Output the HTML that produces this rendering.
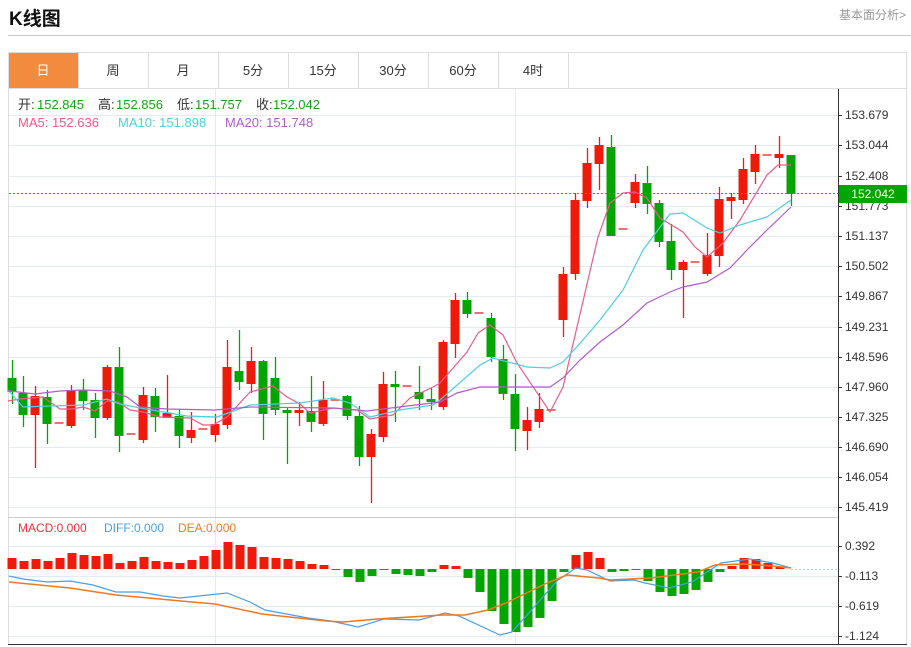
<!DOCTYPE html>
<html><head><meta charset="utf-8"><style>
body{margin:0;background:#fff;width:911px;height:647px;overflow:hidden;font-family:"Liberation Sans","Noto Sans CJK SC",sans-serif;}
#t{position:absolute;left:9px;top:4px;font-size:19px;font-weight:bold;color:#111;}
#r{position:absolute;right:5px;top:6px;font-size:12px;color:#999;}
</style></head><body>
<div id="t">K线图</div><div id="r">基本面分析&gt;</div>
<svg id="s" width="911" height="647" style="position:absolute;left:0;top:0" xmlns="http://www.w3.org/2000/svg"></svg>
<script>
var s=document.getElementById('s'),h='';
function L(x1,y1,x2,y2,c,w,d){h+='<line x1="'+x1+'" y1="'+y1+'" x2="'+x2+'" y2="'+y2+'" stroke="'+c+'" stroke-width="'+(w||1)+'"'+(d?' stroke-dasharray="'+d+'"':'')+'/>';}
function R(x,y,w,hh,c){h+='<rect x="'+x+'" y="'+y+'" width="'+w+'" height="'+hh+'" fill="'+c+'"/>';}
function T(x,y,t,c,sz,a){h+='<text x="'+x+'" y="'+y+'" fill="'+c+'" font-size="'+(sz||12)+'"'+(a?' text-anchor="'+a+'"':'')+'>'+t+'</text>';}
function P(pts,c,w){h+='<polyline fill="none" stroke="'+c+'" stroke-width="'+(w||1.2)+'" points="'+pts.map(function(p){return p.join(',')}).join(' ')+'"/>';}
L(8,35.5,911,35.5,'#ccc');
R(8.5,52.5,898,35,'#fff');h+='<rect x="8.5" y="52.5" width="898" height="592" fill="none" stroke="#ddd"/>';
R(9,53,69,35,'#f28b3d');
var tabs=['日','周','月','5分','15分','30分','60分','4时'];
for(var i=0;i<8;i++){var x=8+70*i;if(i>0)L(x+.5,53,x+.5,88,'#ddd');T(x+35,75,tabs[i],i?'#333':'#fff',13,'middle');}
L(568.5,53,568.5,88,'#ddd');L(8,88.5,907,88.5,'#ddd');
var gy=[115,145,176,206,236,266,296,327,357,387,417,447,477,507],gl=['153.679','153.044','152.408','151.773','151.137','150.502','149.867','149.231','148.596','147.960','147.325','146.690','146.054','145.419'];
gy.forEach(function(y,i){L(9,y+.5,838,y+.5,'#e2ebf2');L(838,y+.5,842,y+.5,'#333');if(i!=3)T(845,y+4,gl[i],'#333',12);});
T(845,210,'151.773','#333',12);
L(215.5,89,215.5,645,'#e2ebf2');L(515.5,89,515.5,645,'#e2ebf2');
L(8,517.5,838,517.5,'#ccc');
[546,576,606,636].forEach(function(y,i){L(9,y+.5,838,y+.5,'#e2ebf2');L(838,y+.5,842,y+.5,'#333');T(845,y+4,['0.392','-0.113','-0.619','-1.124'][i],'#333',12);});
L(838.5,89,838.5,645,'#333');L(8,644.5,907,644.5,'#333');
var C=[[12,378,392,360,404,'g'],[23,393,415,376,427,'g'],[35,396,415,386,468,'r'],[47,397,424,390,444,'g'],[59,422,424,422,424,'d'],[71,390,426,385,428,'r'],[83,390,401,379,410,'g'],[95,400,418,393,438,'g'],[107,367,418,365,420,'r'],[119,367,436,347,452,'g'],[131,433,435,433,435,'d'],[143,395,440,387,443,'r'],[155,396,417,388,432,'g'],[167,413,418,375,418,'r'],[179,416,436,409,448,'g'],[191,430,438,412,443,'r'],[203,428,430,428,430,'d'],[215,424,435,414,442,'r'],[227,367,425,340,429,'r'],[239,371,382,330,390,'g'],[251,361,384,347,393,'r'],[263,361,414,360,440,'g'],[275,378,410,357,415,'g'],[287,410,413,407,464,'g'],[299,410,413,402,426,'r'],[311,411,422,376,432,'g'],[323,400,424,381,426,'r'],[335,399,401,399,401,'d'],[347,396,416,395,420,'g'],[359,416,457,406,466,'g'],[371,434,457,429,503,'r'],[383,384,437,372,442,'r'],[395,384,387,371,422,'g'],[407,385,387,385,387,'d'],[419,392,399,366,410,'g'],[431,399,402,388,410,'g'],[443,342,407,340,410,'r'],[455,300,344,293,358,'r'],[467,300,314,292,318,'g'],[479,312,314,312,314,'d'],[491,318,357,313,362,'g'],[503,359,394,345,400,'g'],[515,394,429,374,451,'g'],[527,420,431,407,450,'r'],[539,409,422,393,428,'r'],[551,409,411,409,411,'d'],[563,274,320,267,337,'r'],[575,200,274,193,280,'r'],[587,163,201,148,208,'r'],[599,145,164,137,190,'r'],[611,147,236,135,236,'g'],[623,228,230,228,230,'d'],[635,182,203,174,208,'r'],[647,183,204,166,214,'g'],[659,203,242,200,247,'g'],[671,241,270,224,280,'g'],[683,262,270,260,318,'r'],[695,261,263,261,263,'d'],[707,255,274,233,276,'r'],[719,199,256,187,267,'r'],[731,197,201,193,219,'r'],[743,169,200,158,204,'r'],[755,154,172,145,184,'r'],[767,154,156,154,156,'d'],[779,154,158,136,168,'r'],[791,155,194,155,206,'g']];
var RED='#f01a0a',GRN='#03a500';
C.forEach(function(c){var col=c[5]=='g'?GRN:RED;if(c[5]=='d'){R(c[0]-4.5,c[1],9,2,'#f07070');return;}L(c[0]+.5,c[3],c[0]+.5,c[4],col,1.3);R(c[0]-4.5,c[1],9,Math.max(2,c[2]-c[1]),col);});
P([[8,401],[20,399],[43,397],[60,409],[72,409],[83,407],[95,411],[107,401],[118,402],[130,410],[143,412],[160,417],[190,418],[203,425],[213,425],[227,417],[250,392],[273,386],[287,397],[300,404],[310,413],[333,408],[357,410],[370,419],[393,415],[410,398],[433,387],[440,383],[467,352],[478,333],[490,325],[503,335],[517,363],[550,412],[563,387],[598,237],[610,203],[623,193],[635,192],[647,198],[660,218],[683,232],[695,247],[707,257],[723,243],[740,220],[767,175],[778,165],[791,165]],'#ec5a8a');
P([[8,390],[23,407],[50,406],[83,405],[107,399],[120,404],[140,408],[187,416],[217,417],[250,405],[300,403],[333,398],[350,403],[370,417],[400,410],[433,405],[440,400],[480,365],[493,358],[527,367],[550,368],[563,362],[583,340],[600,320],[623,290],[643,250],[670,214],[683,213],[707,228],[720,233],[740,225],[767,217],[791,200]],'#4dcfe0');
P([[8,390],[10,391],[35,394],[60,391],[83,390],[110,391],[127,397],[140,407],[167,409],[215,410],[250,407],[333,408],[367,411],[440,402],[457,393],[480,387],[503,387],[550,387],[563,378],[580,360],[600,342],[623,325],[647,303],[670,292],[683,287],[707,282],[730,268],[747,250],[767,230],[791,207]],'#b35cc9');
L(9,193.5,838,193.5,'#22b422',1,'2,2');
R(839,185,68,18,GRN);T(873,198,'152.042','#fff',12,'middle');
h+='<text y="109" font-size="13"><tspan fill="#333" x="18">开:</tspan><tspan fill="#16a316" x="37">152.845</tspan><tspan fill="#333" x="98">高:</tspan><tspan fill="#16a316" x="116">152.856</tspan><tspan fill="#333" x="177">低:</tspan><tspan fill="#16a316" x="195">151.757</tspan><tspan fill="#333" x="256">收:</tspan><tspan fill="#16a316" x="273">152.042</tspan></text>';
h+='<text y="127" font-size="13"><tspan fill="#ec5a8a" x="18">MA5: 152.636</tspan><tspan fill="#4dcfe0" x="118">MA10: 151.898</tspan><tspan fill="#b35cc9" x="225">MA20: 151.748</tspan></text>';
h+='<text y="532" font-size="12"><tspan fill="#f03030" x="18">MACD:0.000</tspan><tspan fill="#4a9ee8" x="104">DIFF:0.000</tspan><tspan fill="#f07820" x="178">DEA:0.000</tspan></text>';
var Z=569,M=[558,561,559,561,558,553,555,556,554,563,561,557,561,562,563,560,556,550,542,545,547,557,558,559,561,564,565,570,577,582,576,570,574,575,576,572,565,566,578,592,611,624,632,627,618,601,572,555,552,558,572,571,570,581,592,596,594,590,582,572,566,558,559,563,567,569];
M.forEach(function(y,i){var x=12+12*i;if(y<Z)R(x-4.5,y,9,Z-y,RED);else if(y>Z)R(x-4.5,Z,9,y-Z,GRN);});
L(791,569.5,838,569.5,'#9cd4f0',1,'2,2');
P([[9,576],[23,579],[47,582],[70,581],[93,585],[116,592],[140,592],[163,596],[180,598],[227,593],[250,602],[265,610],[308,618],[331,621],[358,627],[384,619],[419,620],[445,613],[459,616],[500,635],[512,632],[558,580],[576,568],[587,570],[610,581],[634,580],[645,583],[669,588],[692,582],[721,563],[750,559],[773,563],[791,568]],'#4a9ee8');
P([[9,582],[70,588],[116,595],[192,602],[215,604],[262,614],[326,621],[343,622],[378,619],[442,615],[465,615],[488,610],[506,603],[547,583],[567,575],[599,578],[610,580],[651,578],[698,572],[715,565],[744,564],[773,566],[791,568]],'#f07820',1.5);
s.innerHTML=h;
</script>
</body></html>
